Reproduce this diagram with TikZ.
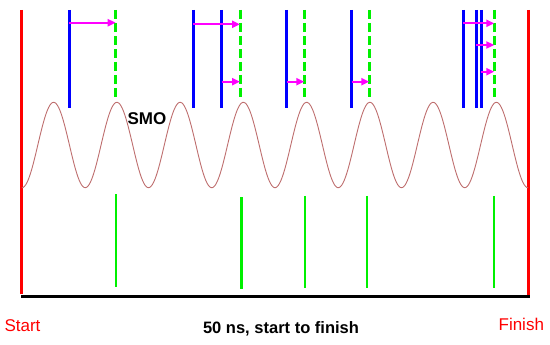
\documentclass[tikz,border=0pt]{standalone}
\usepackage{fontspec}
\setmainfont{Liberation Sans}
\usetikzlibrary{arrows.meta}
\definecolor{sred}{RGB}{255,0,0}
\definecolor{sblue}{RGB}{0,0,255}
\definecolor{sgreen}{RGB}{0,240,0}
\definecolor{smag}{RGB}{255,0,255}
\definecolor{ssine}{RGB}{190,110,110}
\begin{document}
\begin{tikzpicture}[x=1pt,y=-1pt,
  redline/.style={draw=sred,line width=3pt},
  blueline/.style={draw=sblue,line width=3pt},
  gdash/.style={draw=sgreen,line width=3pt,dash pattern=on 9pt off 4pt},
  gsolid/.style={draw=sgreen,line width=2.5pt},
  axisline/.style={draw=black,line width=3pt},
  shiftarrow/.style={draw=smag,line width=2pt,-{Triangle[length=8pt,width=7pt]}},
  sinecurve/.style={draw=ssine,line width=0.9pt},
  lbl/.style={inner sep=0pt,anchor=base}]
\useasboundingbox (0,0) rectangle (550,345);
% red start/finish
\draw[redline] (21.7,10) -- (21.7,293.5);
\draw[redline] (528.3,10) -- (528.3,295);
% axis
\draw[axisline] (21,296.7) -- (530,296.7);
% sine
\draw[sinecurve] plot[domain=22:528,samples=400,smooth] (\x,{145+42.7*cos(5.6917*(\x-22))});
% blue lines
\foreach \x in {69,193.3,221.7,286.7,351.7,463.3,476.7,481}
  \draw[blueline] (\x,10) -- (\x,108);
% green dashed
\foreach \x in {115.7,240,304.3,369.3,494.3}
  \draw[gdash] (\x,10) -- (\x,98);
% green solid
\draw[gsolid] (116,194.3) -- (116,286.7);
\draw[gsolid] (241.3,197.3) -- (241.3,289.3);
\draw[gsolid] (305,196) -- (305,288.3);
\draw[gsolid] (367,196) -- (367,288.3);
\draw[gsolid] (494,196) -- (494,288.3);
% arrows
\coordinate (a1s) at (69,22.7);    \coordinate (a1e) at (115.7,22.7);
\coordinate (a2s) at (193.3,24.3); \coordinate (a2e) at (240,24.3);
\coordinate (a3s) at (221.7,81.7); \coordinate (a3e) at (240,81.7);
\coordinate (a4s) at (286.7,81.7); \coordinate (a4e) at (304.3,81.7);
\coordinate (a5s) at (351.7,81.7); \coordinate (a5e) at (369.3,81.7);
\coordinate (a6s) at (463.3,23.3); \coordinate (a6e) at (494.3,23.3);
\coordinate (a7s) at (476,45);     \coordinate (a7e) at (494.3,45);
\coordinate (a8s) at (481,71.7);   \coordinate (a8e) at (494.3,71.7);
\foreach \i in {1,...,8} \draw[shiftarrow] (a\i s) -- (a\i e);
% labels
\node[lbl,font=\bfseries\fontsize{17}{20}\selectfont] (smo) at (147,125) {SMO};
\node[lbl,text=sred,font=\fontsize{17}{20}\selectfont] (start) at (22.5,331) {Start};
\node[lbl,text=sred,font=\fontsize{17}{20}\selectfont] (finish) at (521.3,330.7) {Finish};
\node[lbl,font=\bfseries\fontsize{16.5}{20}\selectfont] (cap) at (281,334) {50 ns, start to finish};
\end{tikzpicture}
\end{document}
